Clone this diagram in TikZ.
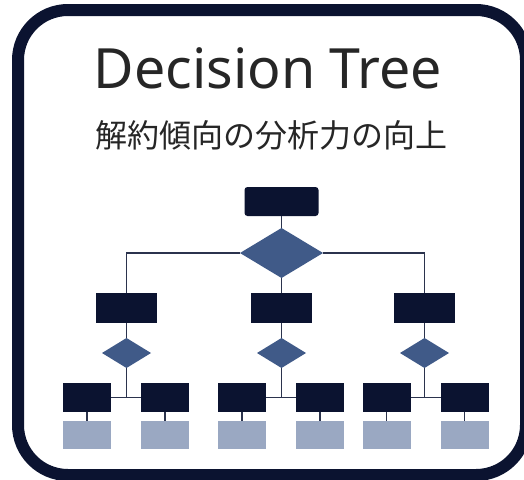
\documentclass[tikz,border=0pt]{standalone}
\usepackage{fontspec}
\setmainfont{Noto Sans}
\newfontfamily\jpfont{Noto Sans CJK JP}
\usepackage{xcolor}
\usetikzlibrary{positioning}
\usetikzlibrary{shapes,shapes.geometric}

\definecolor{navy}{HTML}{0B1330}
\definecolor{slate}{HTML}{405A88}
\definecolor{haze}{HTML}{9AA8C2}
\definecolor{wire}{HTML}{2B334D}
\definecolor{ink}{HTML}{262626}

\tikzset{
  box/.style={fill=navy, inner sep=0pt, outer sep=0pt, minimum width=61pt, minimum height=30pt},
  leaf/.style={box, minimum width=48pt, minimum height=29pt},
  pale/.style={leaf, fill=haze, minimum height=28pt},
  choice/.style={diamond, fill=slate, inner sep=0pt, outer sep=0pt, minimum width=49pt, minimum height=30pt},
}

\begin{document}
\begin{tikzpicture}[x=1pt, y=-1pt, wire/.style={draw=wire, line width=1.3pt}]
 			\useasboundingbox (0,0) rectangle (524,479);
 			\fill[white] (0,0) rectangle (524,479);
 			\draw[navy, line width=12pt, rounded corners=50pt] (18,10) rectangle (526,475);

 			\node[anchor=base, text=ink, font=\fontsize{55.5}{60}\selectfont] (title) at (268,88) {Decision Tree};
 			\node[anchor=base, text=ink, font=\jpfont\fontsize{32}{36}\selectfont] (sub) at (271,147) {解約傾向の分析力の向上};

 			\node[box, minimum width=74pt, minimum height=29pt, rounded corners=3pt] (root) at (281.5,201.5) {};
 			\node[choice, below = 12pt of root, minimum width=83pt, minimum height=50pt] (d0) {};
 			\node[box, below = 15pt of d0] (m2) {};
 			\node[box, left = 94pt of m2] (m1) {};
 			\node[box, right = 82pt of m2] (m3) {};

 			\node[choice, below = 15pt of m1] (s1) {};
 			\node[choice, below = 15pt of m2] (s2) {};
 			\node[choice, below = 15pt of m3] (s3) {};

 			\node[leaf, below = 15pt of s1, xshift=-39.5pt] (l1a) {};
 			\node[leaf, below = 15pt of s1, xshift=38.5pt] (l1b) {};
 			\node[leaf, below = 15pt of s2, xshift=-39.5pt] (l2a) {};
 			\node[leaf, below = 15pt of s2, xshift=38.5pt] (l2b) {};
 			\node[leaf, below = 15pt of s3, xshift=-38pt] (l3a) {};
 			\node[leaf, below = 15pt of s3, xshift=40pt] (l3b) {};

 			\node[pale, below = 9pt of l1a] (p1a) {};
 			\node[pale, below = 9pt of l1b] (p1b) {};
 			\node[pale, below = 9pt of l2a] (p2a) {};
 			\node[pale, below = 9pt of l2b] (p2b) {};
 			\node[pale, below = 9pt of l3a] (p3a) {};
 			\node[pale, below = 9pt of l3b] (p3b) {};

 			\draw[wire] (root) -- (d0);
 			\draw[wire] (d0.west) -| (m1.north);
 			\draw[wire] (d0) -- (m2);
 			\draw[wire] (d0.east) -| (m3.north);
 			\draw[wire] (m1) -- (s1);
 			\draw[wire] (m2) -- (s2);
 			\draw[wire] (m3) -- (s3);
 			\draw[wire] (l1a) -- (l1b);
 			\draw[wire] (l2a) -- (l2b);
 			\draw[wire] (l3a) -- (l3b);
 			\draw[wire] (s1.south) -- (s1.south |- l1a.east);
 			\draw[wire] (s2.south) -- (s2.south |- l2a.east);
 			\draw[wire] (s3.south) -- (s3.south |- l3a.east);
 			\draw[wire] (l1a) -- (p1a);
 			\draw[wire] (l1b) -- (p1b);
 			\draw[wire] (l2a) -- (p2a);
 			\draw[wire] (l2b) -- (p2b);
 			\draw[wire] (l3a) -- (p3a);
 			\draw[wire] (l3b) -- (p3b);
 		\end{tikzpicture}
\end{document}
